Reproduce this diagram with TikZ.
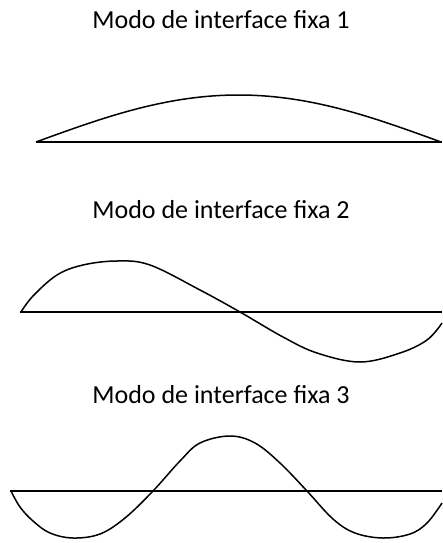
\documentclass[tikz,border=0pt]{standalone}
\usepackage{fontspec}
\setmainfont{Carlito}
\usepackage{tikz}
\usetikzlibrary{positioning}

\tikzset{
  modetitle/.style={anchor=base, inner sep=0pt, font=\fontsize{26}{30}\selectfont},
  axisline/.style={line width=2pt, black},
  modeshape/.style={line width=1.5pt, black, line join=round}
}

\begin{document}
\begin{tikzpicture}[x=1pt, y=-1pt]
\useasboundingbox (0,0) rectangle (442,543);

% titles
\node[modetitle] (title1) at (221,29) {Modo de interface fixa 1};
\node[modetitle] (title2) at (221,218) {Modo de interface fixa 2};
\node[modetitle] (title3) at (221,403) {Modo de interface fixa 3};

% mode 1: one half wave
\draw[axisline] (36,142) -- (442,142);
\draw[modeshape] plot[domain=36:441, samples=80, smooth]
  (\x, {142-47*sin((\x-36)/405*180)});

% mode 2: one full wave, cut at the right edge
\draw[axisline] (20,312) -- (442,312);
\draw[modeshape] plot[smooth, tension=0.6] coordinates {
  (21,312) (33,296) (57,275) (83,265) (117,261) (150,265)
  (200,290) (240,312) (283,337) (317,353) (360,362)
  (400,353) (427,340) (442,323)};

% mode 3: three half waves
\draw[axisline] (10,491) -- (442,491);
\draw[modeshape] plot[smooth, tension=0.6] coordinates {
  (11,491) (20,507) (33,521) (50,533) (73,538) (100,534)
  (125,518) (153,491) (180,461) (200,443) (230,436) (255,443)
  (280,463) (307,491) (333,519) (355,533) (383,538)
  (410,534) (427,523) (442,503)};
\end{tikzpicture}
\end{document}
